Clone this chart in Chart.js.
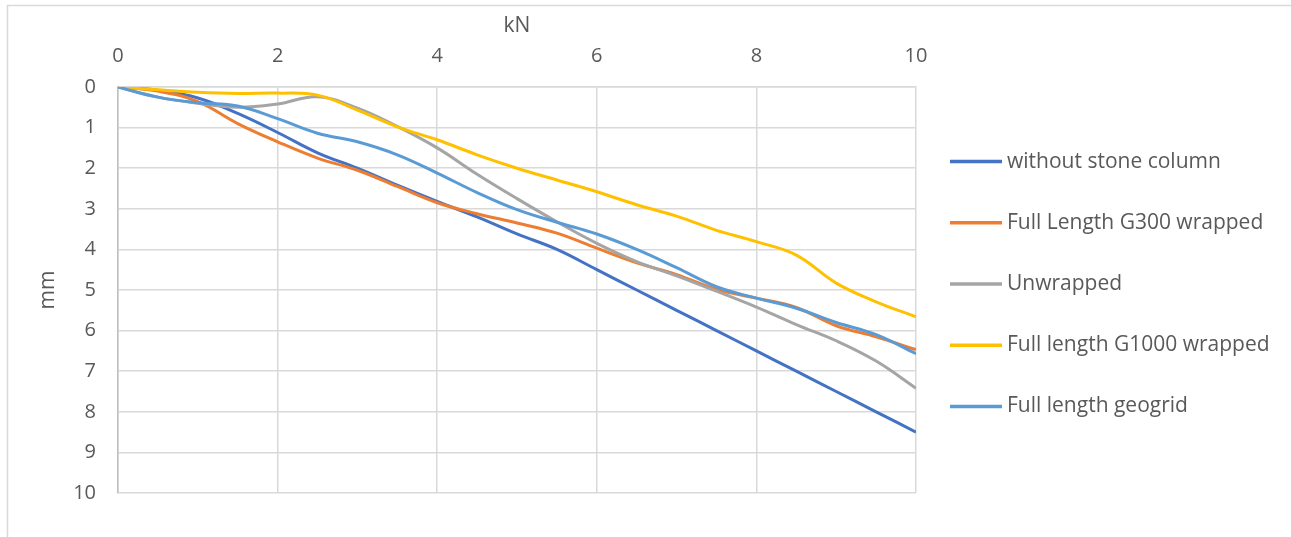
<!DOCTYPE html>
<html>
<head>
<meta charset="utf-8">
<script src="https://cdn.jsdelivr.net/npm/chart.js@4"></script>
<style>
  html, body { margin: 0; padding: 0; background: #fff; }
  #wrap { position: absolute; left: 0; top: 0; width: 1291px; height: 537px; }
</style>
</head>
<body>
<div id="wrap"><canvas id="chart" width="1291" height="537"></canvas></div>
<script>
// load in kN, settlement in mm
const loads = [0, 0.5, 1, 1.5, 2, 2.5, 3, 3.5, 4, 4.5, 5, 5.5, 6, 6.5, 7, 7.5, 8, 8.5, 9, 9.5, 10];

const withoutColumn = [0, 0.08, 0.27, 0.65, 1.12, 1.62, 2.0, 2.42, 2.82, 3.2, 3.62, 4.0, 4.5, 5.0, 5.5, 6.0, 6.5, 7.0, 7.5, 8.0, 8.5];
const g300Wrapped   = [0, 0.1, 0.36, 0.9, 1.35, 1.75, 2.05, 2.45, 2.85, 3.12, 3.35, 3.6, 3.97, 4.33, 4.62, 4.98, 5.2, 5.43, 5.88, 6.15, 6.47];
const unwrapped     = [0, 0.25, 0.4, 0.5, 0.42, 0.24, 0.52, 0.97, 1.5, 2.15, 2.75, 3.32, 3.85, 4.3, 4.65, 5.03, 5.42, 5.85, 6.25, 6.75, 7.42];
const g1000Wrapped  = [0, 0.07, 0.13, 0.16, 0.15, 0.2, 0.57, 0.98, 1.3, 1.67, 2.0, 2.29, 2.58, 2.9, 3.18, 3.53, 3.81, 4.14, 4.83, 5.29, 5.66];
const geogrid       = [0, 0.25, 0.39, 0.47, 0.78, 1.14, 1.35, 1.67, 2.12, 2.6, 3.02, 3.33, 3.62, 4.0, 4.45, 4.92, 5.2, 5.45, 5.8, 6.1, 6.57];

const seriesNames = ["without stone column", "Full Length G300 wrapped", "Unwrapped", "Full length G1000 wrapped", "Full length geogrid"];
const seriesData = [withoutColumn, g300Wrapped, unwrapped, g1000Wrapped, geogrid];
const seriesColors = ["#4472C4", "#ED7D31", "#A5A5A5", "#FFC000", "#5B9BD5"];

const FONT = "'Open Sans', sans-serif";
const TEXT = "#595959";
const GRID = "#d9d9d9";

const datasets = seriesData.map((vals, i) => ({
    label: seriesNames[i],
    data: vals.map((v, j) => ({ x: loads[j], y: v })),
    borderColor: seriesColors[i],
    backgroundColor: seriesColors[i],
    borderWidth: 3,
    pointRadius: 0,
    tension: 0.4,
    fill: false,
    order: seriesData.length - i
}));

// legend on the right, drawn by hand like Excel's
const sideLegend = {
    id: "sideLegend",
    afterDraw(chart) {
        const c = chart.ctx;
        const area = chart.chartArea;
        const gap = 61.2;
        const n = chart.data.datasets.length;
        const mid = (area.top + area.bottom) / 2 - 6;
        c.save();
        c.font = "21px " + FONT;
        c.textBaseline = "middle";
        c.fillStyle = TEXT;
        chart.data.datasets.forEach((ds, i) => {
            const y = mid + (i - (n - 1) / 2) * gap;
            c.strokeStyle = ds.borderColor;
            c.lineWidth = 3.5;
            c.beginPath();
            c.moveTo(950, y);
            c.lineTo(1002, y);
            c.stroke();
            c.fillText(ds.label, 1007, y);
        });
        c.restore();
    }
};

const frame = {
    id: "frame",
    beforeDraw(chart) {
        const c = chart.ctx;
        c.save();
        c.strokeStyle = "#d9d9d9";
        c.lineWidth = 1.5;
        c.strokeRect(7.5, 5.5, 1400, 700);
        c.restore();
    }
};

new Chart(document.getElementById("chart"), {
    type: "line",
    data: { datasets },
    options: {
        responsive: false,
        animation: false,
        layout: { padding: { left: 0, top: 0, right: 375, bottom: 44 } },
        plugins: {
            legend: { display: false },
            tooltip: { enabled: false }
        },
        scales: {
            x: {
                type: "linear",
                position: "top",
                min: 0,
                max: 10,
                ticks: { stepSize: 2, color: TEXT, padding: 19, font: { family: FONT, size: 20 } },
                grid: { color: GRID, lineWidth: 1.5, drawTicks: false },
                border: { color: GRID, width: 1.5 },
                title: { display: true, text: "kN", color: TEXT, padding: { top: 13, bottom: 0 }, font: { family: FONT, size: 21 } },
                afterFit: s => { s.height = 87; }
            },
            y: {
                type: "linear",
                reverse: true,
                min: 0,
                max: 10,
                ticks: { stepSize: 1, color: TEXT, padding: 22, font: { family: FONT, size: 20 } },
                grid: { color: GRID, lineWidth: 1.5, drawTicks: false },
                border: { color: "#bfbfbf", width: 1.5 },
                title: { display: true, text: "mm", color: TEXT, padding: { top: 35, bottom: 0 }, font: { family: FONT, size: 21 } },
                afterFit: s => { s.width = 118; }
            }
        }
    },
    plugins: [frame, sideLegend]
});
</script>
</body>
</html>
